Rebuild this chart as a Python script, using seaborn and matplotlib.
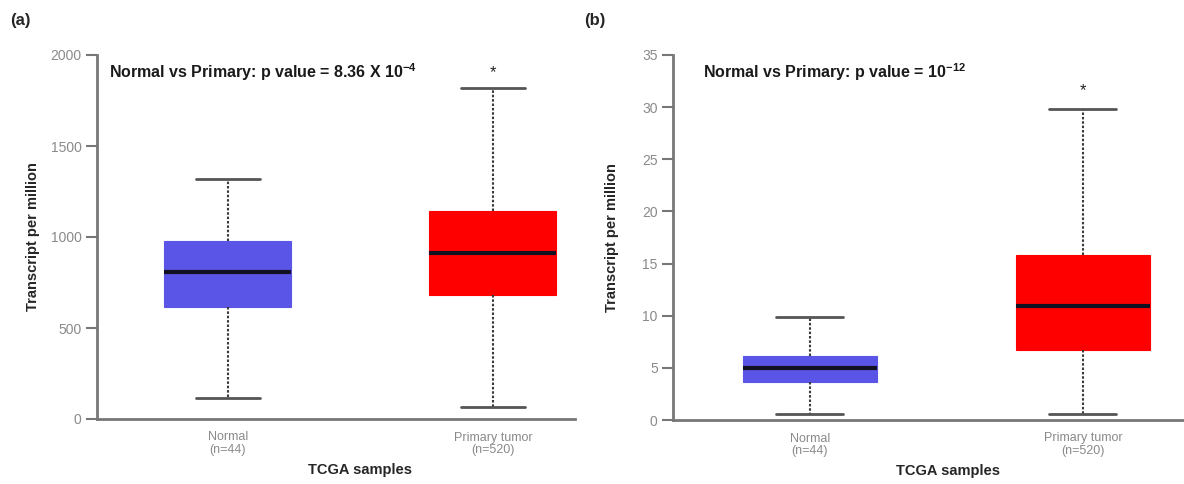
import matplotlib
matplotlib.use("Agg")
import matplotlib.pyplot as plt
import seaborn as sns
import pandas as pd

# ---- data (five-number summaries) ----
groups = ["Normal\n(n=44)", "Primary tumor\n(n=520)"]
# [lower whisker, Q1, median, Q3, upper whisker]
a_normal = [115, 615, 808, 978, 1319]
a_primary = [66, 681, 912, 1143, 1819]
b_normal = [0.58, 3.67, 5.02, 6.18, 9.86]
b_primary = [0.58, 6.67, 10.9, 15.85, 29.8]
a_title = r"Normal vs Primary: p value = 8.36 X 10$^{\mathbf{-4}}$"
b_title = r"Normal vs Primary: p value = 10$^{\mathbf{-12}}$"
a_yticks = [0, 500, 1000, 1500, 2000]
b_yticks = [0, 5, 10, 15, 20, 25, 30, 35]
colors = ["#5a55e6", "#ff0000"]

sns.set_style("white")
plt.rcParams["font.family"] = ["Liberation Sans", "DejaVu Sans"]
plt.rcParams["mathtext.fontset"] = "custom"
plt.rcParams["mathtext.rm"] = "Liberation Sans:bold"
plt.rcParams["mathtext.bf"] = "Liberation Sans:bold"

fig = plt.figure(figsize=(11.84, 4.84), dpi=100)
W, H = 1184, 484
def rect(x0, x1, ytop, ybot):
    return [x0 / W, 1 - ybot / H, (x1 - x0) / W, (ybot - ytop) / H]

ax_a = fig.add_axes(rect(97, 575, 55, 419))
ax_b = fig.add_axes(rect(673, 1184, 55, 420))

def draw(ax, normal, primary, yticks, xlim, width, title, tx, star_y, xl_x, yl_x):
    df = pd.DataFrame({
        "group": [groups[0]] * len(normal) + [groups[1]] * len(primary),
        "value": list(normal) + list(primary),
    })
    sns.boxplot(data=df, x="group", y="value", hue="group", palette=colors,
                saturation=1, legend=False, width=width, whis=(0, 100), ax=ax,
                fliersize=0,
                boxprops=dict(linewidth=0.8),
                whiskerprops=dict(color="#3a3a3a", linewidth=1.5, linestyle=(0, (1.2, 0.9))),
                capprops=dict(color="#555555", linewidth=2.0),
                medianprops=dict(color="#111122", linewidth=3.0))
    for p in ax.patches:
        p.set_edgecolor(p.get_facecolor())
    ax.set_xlim(*xlim)
    ax.set_ylim(yticks[0], yticks[-1])
    ax.set_yticks(yticks)
    ax.tick_params(axis="y", direction="out", length=8, width=1.5, color="#777777",
                   labelcolor="#8a8a8a", labelsize=10, pad=3, left=True)
    ax.tick_params(axis="x", length=0, labelcolor="#8a8a8a", labelsize=9, pad=9)
    for lab in ax.get_xticklabels():
        lab.set_linespacing(1.05)
    for s in ["top", "right"]:
        ax.spines[s].set_visible(False)
    for s in ["left", "bottom"]:
        ax.spines[s].set_color("#777777")
        ax.spines[s].set_linewidth(2)
    ax.set_ylabel("Transcript per million", fontsize=10.5, fontweight="bold")
    ax.yaxis.set_label_coords(yl_x, 0.5)
    ax.yaxis.label.set_va("center")
    ax.set_xlabel("TCGA samples", fontsize=10.5, fontweight="bold")
    ax.xaxis.set_label_coords(xl_x, -0.14)
    ax.xaxis.label.set_va("center")
    ax.text(tx, 0.953, title, transform=ax.transAxes, fontsize=11.5,
            fontweight="bold", va="center", ha="left", color="#1a1a1a")
    ax.text(1, star_y, "*", fontsize=12, ha="center", va="center", color="#222222")

draw(ax_a, a_normal, a_primary, a_yticks, (-0.494, 1.31), 0.48, a_title, 0.025, 1905, 0.55, -0.134)
draw(ax_b, b_normal, b_primary, b_yticks, (-0.50, 1.37), 0.49, b_title, 0.059, 31.6, 0.538, -0.119)

fig.text(10 / W, 1 - 20 / H, "(a)", fontsize=12, fontweight="bold", va="center", ha="left")
fig.text(584 / W, 1 - 20 / H, "(b)", fontsize=12, fontweight="bold", va="center", ha="left")

fig.savefig("out.png", dpi=100)
